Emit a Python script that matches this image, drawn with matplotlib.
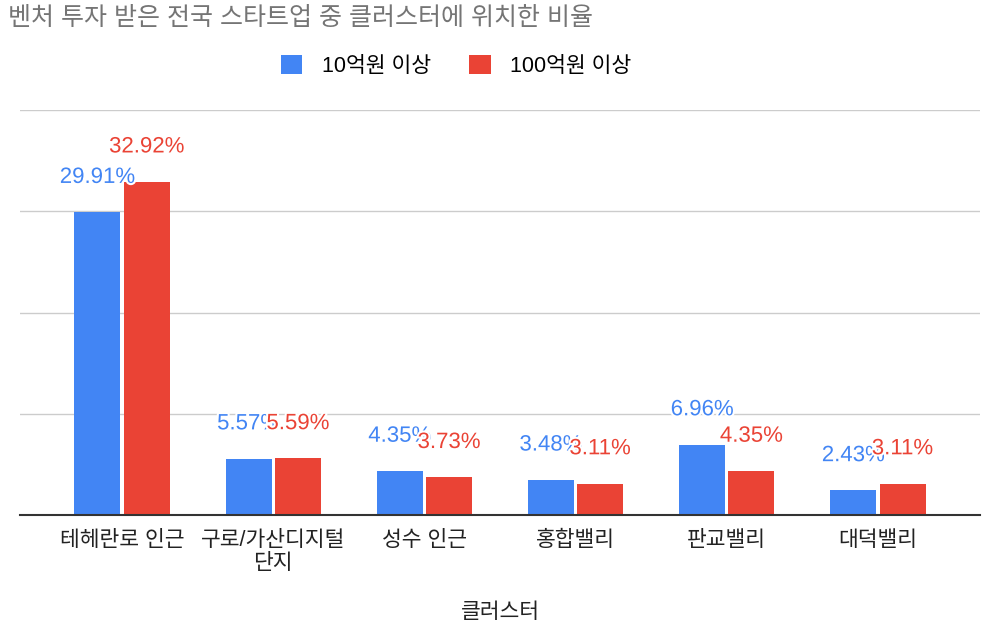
import matplotlib.pyplot as plt
import matplotlib.patheffects as pe
import numpy as np

plt.rcParams["font.family"] = ["Liberation Sans", "Noto Sans CJK KR", "DejaVu Sans"]

title = "벤처 투자 받은 전국 스타트업 중 클러스터에 위치한 비율"
clusters = ["테헤란로 인근", "구로/가산디지털\n단지", "성수 인근", "홍합밸리", "판교밸리", "대덕밸리"]
series_names = ["10억원 이상", "100억원 이상"]
over_1b = [29.91, 5.57, 4.35, 3.48, 6.96, 2.43]
over_10b = [32.92, 5.59, 3.73, 3.11, 4.35, 3.11]
x_title = "클러스터"

colors = ["#4285f4", "#ea4335"]

fig = plt.figure(figsize=(10.01, 6.3), dpi=100)
ax = fig.add_axes([20 / 1001, 1 - 515 / 630, 960 / 1001, 405 / 630])

x = np.arange(len(clusters))
width = 0.305
offset = 0.163

for vals, off, color, name in zip([over_1b, over_10b], [-offset, offset], colors, series_names):
    bars = ax.bar(x + off, vals, width=width, color=color, label=name, zorder=3)
    for rect, v in zip(bars, vals):
        ax.annotate(
            f"{v:.2f}%",
            xy=(rect.get_x() + rect.get_width() / 2, v),
            xytext=(0, 25),
            textcoords="offset points",
            ha="center",
            va="center",
            fontsize=16,
            color=color,
            zorder=5,
            path_effects=[pe.withStroke(linewidth=3, foreground="white")],
        )

ax.set_xlim(-0.675, len(clusters) - 1 + 0.675)
ax.set_ylim(0, 40)
ax.set_yticks([10, 20, 30, 40])
ax.yaxis.grid(True, color="#cccccc", linewidth=1, zorder=0)
ax.tick_params(axis="y", left=False, labelleft=False)
ax.tick_params(axis="x", bottom=False, labelsize=15.5, colors="#222222", pad=7)
ax.set_xticks(x)
ax.set_xticklabels(clusters, linespacing=1.15)
for side in ["top", "right", "left"]:
    ax.spines[side].set_visible(False)
ax.spines["bottom"].set_color("#333333")
ax.spines["bottom"].set_linewidth(1.5)
ax.spines["bottom"].set_zorder(4)

fig.text(500 / 1001, 1 - 612 / 630, x_title, ha="center", va="center", fontsize=15.5, color="#222222")
fig.text(8 / 1001, 1 - 18 / 630, title, ha="left", va="center", fontsize=18, color="#757575")

fig.legend(
    loc="center",
    bbox_to_anchor=(456 / 1001, 1 - 66 / 630),
    ncol=2,
    frameon=False,
    fontsize=15.5,
    handlelength=1.0,
    handleheight=1.0,
    handletextpad=0.9,
    columnspacing=1.8,
)

fig.savefig("out.png")
